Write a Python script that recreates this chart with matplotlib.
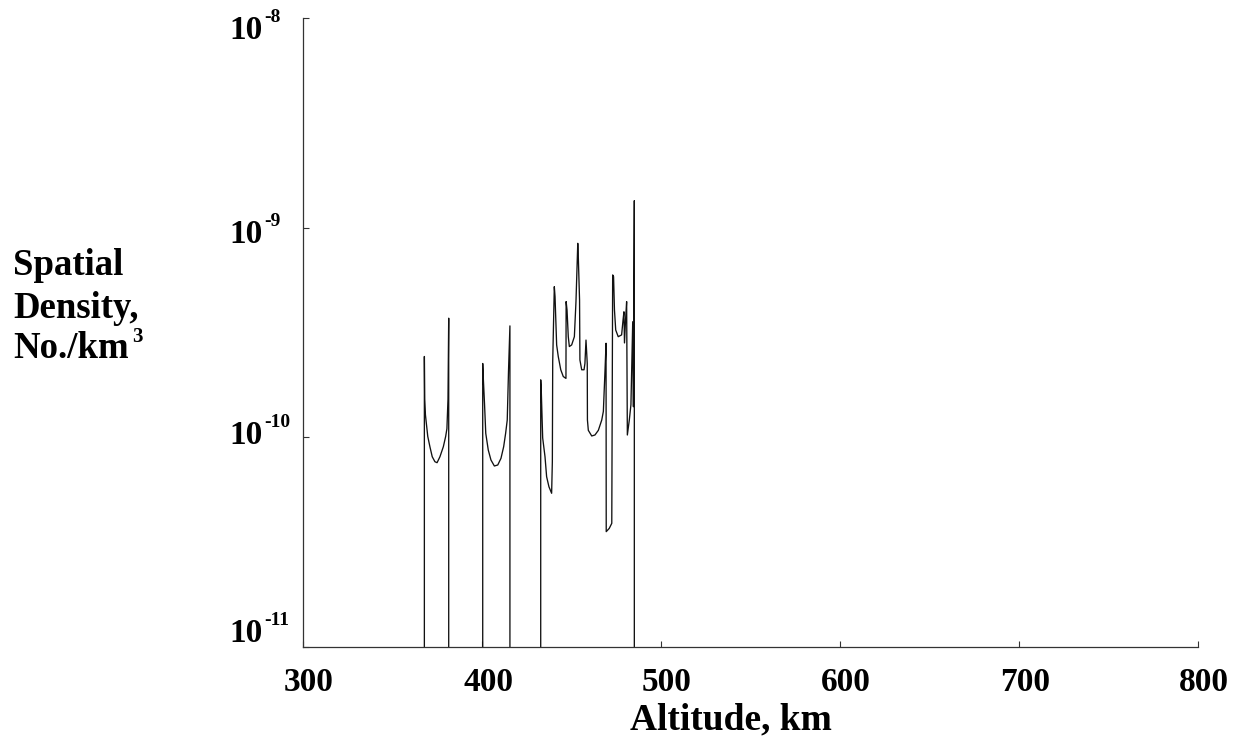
import matplotlib
matplotlib.use("Agg")
import matplotlib.pyplot as plt
from matplotlib.ticker import NullLocator

# Spatial density vs altitude (zero where no objects, drawn down to the axis)
alt_a = [367.8, 367.8, 368.0, 368.4, 369.7, 370.9, 372.2, 373.7, 374.9, 376.5,
         378.4, 379.7, 380.4, 381.0, 381.4, 381.4]
dens_a = [0.0, 2.43e-10, 1.52e-10, 1.28e-10, 1.01e-10, 9.02e-11, 8.08e-11, 7.65e-11,
          7.57e-11, 8.08e-11, 9.02e-11, 1.01e-10, 1.10e-10, 1.52e-10, 3.70e-10, 0.0]

alt_b = [400.4, 400.4, 400.6, 401.4, 402.1, 403.5, 405.0, 406.9, 408.8, 410.6,
         412.1, 413.2, 414.1, 414.8, 415.6, 415.6]
dens_b = [0.0, 2.25e-10, 2.02e-10, 1.45e-10, 1.045e-10, 8.70e-11, 7.80e-11, 7.30e-11,
          7.38e-11, 7.94e-11, 9.02e-11, 1.045e-10, 1.21e-10, 2.06e-10, 3.40e-10, 0.0]

alt_c = [432.8, 432.8, 433.1, 433.9, 435.2, 436.1, 437.4, 438.9, 439.3, 439.5,
         440.4, 440.8, 441.7, 442.6, 444.0, 445.4, 446.9, 447.0, 447.5, 448.2,
         448.8, 450.1, 451.6, 452.5, 453.5, 453.8, 454.5, 454.7, 455.7, 457.0,
         457.5, 458.1, 458.8, 458.9, 459.4, 461.3, 463.1, 465.0, 466.9, 467.8,
         468.2, 468.7, 469.3, 469.4, 471.1, 472.5, 473.0, 473.5, 474.0, 474.7,
         476.1, 478.0, 478.8, 479.3, 479.6, 480.2, 480.8, 481.2, 482.3, 483.2,
         484.2, 484.6, 485.1, 485.1]
dens_c = [0.0, 1.88e-10, 1.68e-10, 9.93e-11, 8.08e-11, 6.49e-11, 5.81e-11, 5.41e-11, 7.65e-11, 2.29e-10,
          5.23e-10, 4.69e-10, 2.76e-10, 2.43e-10, 2.10e-10, 1.95e-10, 1.91e-10, 4.44e-10, 4.05e-10, 3.02e-10,
          2.71e-10, 2.76e-10, 3.02e-10, 4.44e-10, 8.42e-10, 7.27e-10, 4.52e-10, 2.34e-10, 2.10e-10, 2.10e-10,
          2.25e-10, 2.91e-10, 2.25e-10, 1.21e-10, 1.08e-10, 1.015e-10, 1.026e-10, 1.08e-10, 1.21e-10, 1.33e-10,
          1.62e-10, 2.06e-10, 2.81e-10, 3.55e-11, 3.68e-11, 3.89e-11, 5.95e-10, 5.84e-10, 4.05e-10, 3.25e-10,
          3.02e-10, 3.08e-10, 3.63e-10, 3.97e-10, 2.82e-10, 3.63e-10, 4.44e-10, 1.026e-10, 1.21e-10, 1.43e-10,
          3.56e-10, 1.40e-10, 1.345e-9, 0.0]

x_ticks = [300, 400, 500, 600, 700, 800]
y_ticks = [1e-8, 1e-9, 1e-10, 1e-11]
y_exps = ["-8", "-9", "-10", "-11"]
y_shift = [21, 15, 7, -5]   # baseline drop of each y label below its tick, px

plt.rcParams["font.family"] = ["Liberation Serif", "DejaVu Serif"]
plt.rcParams["font.weight"] = "bold"

W, H = 1244, 746
fig = plt.figure(figsize=(W / 100, H / 100), dpi=100)
ax = fig.add_axes([303 / W, 99 / H, 895 / W, 629 / H])

ax.plot(alt_a + alt_b + alt_c, dens_a + dens_b + dens_c, color="#111111", lw=0.95)

ax.set_yscale("log", nonpositive="clip")
ax.set_xlim(300, 800)
ax.set_ylim(1e-11, 1e-8)
ax.set_xticks(x_ticks)
ax.set_yticks(y_ticks)
ax.yaxis.set_minor_locator(NullLocator())
ax.set_xticklabels([])
ax.set_yticklabels([])
ax.tick_params(direction="in", length=4.5, width=0.8, color="#333333")
for s in ["top", "right"]:
    ax.spines[s].set_visible(False)
for s in ["left", "bottom"]:
    ax.spines[s].set_color("#333333")
    ax.spines[s].set_linewidth(0.9)

# tick labels drawn by hand so the exponent uses a plain hyphen
for v in x_ticks:
    ax.annotate(str(v), xy=(v, 0), xycoords=("data", "axes fraction"),
                xytext=(6, -44), textcoords="offset pixels",
                ha="center", va="baseline", fontsize=24, fontweight="bold",
                annotation_clip=False)
for v, e, dy in zip(y_ticks, y_exps, y_shift):
    ax.annotate("10", xy=(0, v), xycoords=("axes fraction", "data"),
                xytext=(-40, -dy), textcoords="offset pixels",
                ha="right", va="baseline", fontsize=24, fontweight="bold",
                annotation_clip=False)
    ax.annotate(e, xy=(0, v), xycoords=("axes fraction", "data"),
                xytext=(-38.5, -dy + 17), textcoords="offset pixels",
                ha="left", va="baseline", fontsize=14, fontweight="bold",
                annotation_clip=False)

fig.text(731 / W, 1 - 729 / H, "Altitude, km", ha="center", va="baseline",
         fontsize=27, fontweight="bold")

fig.text(13 / W, 1 - 275 / H, "Spatial", ha="left", va="baseline", fontsize=26.5, fontweight="bold")
fig.text(13 / W, 1 - 318 / H, "Density,", ha="left", va="baseline", fontsize=26.5, fontweight="bold")
fig.text(13 / W, 1 - 358 / H, "No./km", ha="left", va="baseline", fontsize=26.5, fontweight="bold")
fig.text(132 / W, 1 - 342 / H, "3", ha="left", va="baseline", fontsize=15, fontweight="bold")

fig.savefig("out.png", dpi=100)
